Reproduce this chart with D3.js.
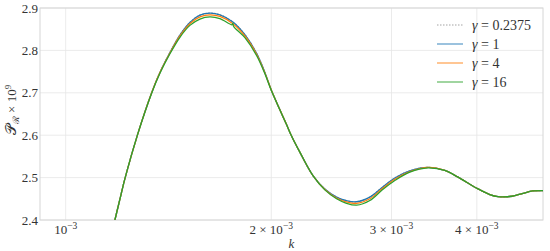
<!DOCTYPE html>
<meta charset="utf-8">
<style>
    body { margin: 0; background: #fff; }
    .grid line { stroke: #e6e6e6; stroke-width: 0.8px; }
    .line { fill: none; stroke-width: 1.3px; }
</style>
<svg width="550" height="251" font-family="'Liberation Serif', 'DejaVu Serif', serif"></svg>
<script src="https://d3js.org/d3.v7.min.js"></script>
<script>

    // k values (units of 1e-3) and P_R x 1e9
    var kVals = [1.1805, 1.2009, 1.2213, 1.2746, 1.3361, 1.3740, 1.4212, 1.4698, 1.5201, 1.5723,
        1.6262, 1.6820, 1.7573, 1.8299, 1.9034, 1.9575, 2.0022, 2.1057, 2.1415, 2.2023,
        2.3034, 2.3961, 2.4926, 2.5721, 2.6664, 2.7886, 2.9035, 3.0335, 3.1908, 3.3938,
        3.5903, 3.7548, 4.0099, 4.1784, 4.2973, 4.5002, 4.6748, 4.8303, 5.0000];

    var gamma1 = [2.400, 2.450, 2.498, 2.602, 2.700, 2.748, 2.795, 2.836, 2.866, 2.883,
        2.888, 2.884, 2.867, 2.837, 2.793, 2.748, 2.705, 2.625, 2.598, 2.560,
        2.504, 2.473, 2.454, 2.446, 2.443, 2.454, 2.476, 2.499, 2.516, 2.524,
        2.517, 2.501, 2.474, 2.460, 2.455, 2.456, 2.463, 2.4685, 2.4695];

    // gamma = 0.2375 sits on top of gamma = 1
    var gamma02375 = gamma1;

    var gamma4 = [2.400, 2.450, 2.498, 2.602, 2.700, 2.748, 2.794, 2.834, 2.863, 2.879,
        2.884, 2.880, 2.863, 2.834, 2.791, 2.747, 2.705, 2.625, 2.598, 2.560,
        2.504, 2.472, 2.452, 2.443, 2.439, 2.450, 2.473, 2.496, 2.514, 2.524,
        2.517, 2.501, 2.474, 2.460, 2.455, 2.456, 2.463, 2.4685, 2.4695];

    // gamma = 16 has a small glitch near k = 1.757e-3
    var kGreen = [1.1805, 1.2009, 1.2213, 1.2746, 1.3361, 1.3740, 1.4212, 1.4698, 1.5201, 1.5723,
        1.6262, 1.6820, 1.7520, 1.7573, 1.7610, 1.8299, 1.9034, 1.9575, 2.0022, 2.1057, 2.1415, 2.2023,
        2.3034, 2.3961, 2.4926, 2.5721, 2.6664, 2.7886, 2.9035, 3.0335, 3.1908, 3.3938,
        3.5903, 3.7548, 4.0099, 4.1784, 4.2973, 4.5002, 4.6748, 4.8303, 5.0000];
    var gamma16 = [2.400, 2.450, 2.498, 2.602, 2.699, 2.746, 2.792, 2.831, 2.859, 2.874,
        2.879, 2.875, 2.8605, 2.8640, 2.8570, 2.830, 2.788, 2.745, 2.704, 2.625, 2.598, 2.560,
        2.504, 2.471, 2.450, 2.440, 2.435, 2.446, 2.470, 2.493, 2.513, 2.523,
        2.517, 2.501, 2.474, 2.460, 2.455, 2.456, 2.463, 2.4685, 2.4695];

    var yTicks = [2.4, 2.5, 2.6, 2.7, 2.8, 2.9];
    var xTicks = [1, 2, 3, 4];   // multiples of 1e-3
    var legendLabels = ["0.2375", "1", "4", "16"];

    var svg = d3.select("svg"),
        margin = {top: 8, right: 7, bottom: 31, left: 40},
        width = +svg.attr("width") - margin.left - margin.right,
        height = +svg.attr("height") - margin.top - margin.bottom;

    var x = d3.scaleLog().domain([0.917e-3, 5e-3]).range([0, width]),
        y = d3.scaleLinear().domain([2.4, 2.9]).range([height, 0]);

    var g = svg.append("g")
        .attr("transform", "translate(" + margin.left + "," + margin.top + ")");

    svg.append("defs").append("clipPath")
        .attr("id", "clip")
        .append("rect")
        .attr("width", width)
        .attr("height", height);

    // grid
    var grid = g.append("g").attr("class", "grid");
    grid.selectAll(".gx").data(xTicks).enter().append("line")
        .attr("x1", function(d) { return x(d * 1e-3); })
        .attr("x2", function(d) { return x(d * 1e-3); })
        .attr("y1", 0).attr("y2", height);
    grid.selectAll(".gy").data(yTicks).enter().append("line")
        .attr("y1", function(d) { return y(d); })
        .attr("y2", function(d) { return y(d); })
        .attr("x1", 0).attr("x2", width);

    g.append("rect")
        .attr("width", width).attr("height", height)
        .attr("fill", "none").attr("stroke", "#d6d6d6").attr("stroke-width", 1);

    // y tick labels
    g.selectAll(".ylab").data(yTicks).enter().append("text")
        .attr("x", -2)
        .attr("y", function(d) { return y(d) + 4.5; })
        .attr("text-anchor", "end")
        .attr("fill", "#333")
        .style("font-size", "13px")
        .text(function(d) { return d.toFixed(1); });

    // x tick labels
    var xl = g.selectAll(".xlab").data(xTicks).enter().append("text")
        .attr("x", function(d) { return x(d * 1e-3); })
        .attr("y", height + 14)
        .attr("text-anchor", "middle")
        .attr("fill", "#333")
        .style("font-size", "13px");
    xl.append("tspan").text(function(d) { return d === 1 ? "10" : d + " \u00d7 10"; });
    xl.append("tspan").attr("dy", -5).style("font-size", "9.5px").text("\u22123");

    // axis labels
    g.append("text")
        .attr("x", width / 2)
        .attr("y", height + 28)
        .attr("text-anchor", "middle")
        .attr("fill", "#333")
        .style("font-size", "13px")
        .style("font-style", "italic")
        .text("k");

    var yl = svg.append("text")
        .attr("transform", "translate(16," + (margin.top + 102) + ") rotate(-90)")
        .attr("text-anchor", "middle")
        .attr("fill", "#333")
        .style("font-size", "13px");
    yl.append("tspan").style("font-size", "15px").text("\ud835\udcab");
    yl.append("tspan").attr("dy", 3).style("font-size", "9px").text("\u211b");
    yl.append("tspan").attr("dy", -3).text(" \u00d7 10");
    yl.append("tspan").attr("dy", -5).style("font-size", "9px").text("9");

    var series = [
        {label: legendLabels[0], k: kVals, v: gamma02375, color: "#999999", dash: "1.5,1.5"},
        {label: legendLabels[1], k: kVals, v: gamma1, color: "#1f77b4", dash: null},
        {label: legendLabels[2], k: kVals, v: gamma4, color: "#ff7f0e", dash: null},
        {label: legendLabels[3], k: kGreen, v: gamma16, color: "#2ca02c", dash: null}
    ];

    var line = d3.line()
        .curve(d3.curveCatmullRom.alpha(0.5))
        .x(function(d) { return x(d[0] * 1e-3); })
        .y(function(d) { return y(d[1]); });

    var plot = g.append("g").attr("clip-path", "url(#clip)");
    series.forEach(function(s) {
        plot.append("path")
            .datum(d3.zip(s.k, s.v))
            .attr("class", "line")
            .attr("stroke", s.color)
            .attr("stroke-dasharray", s.dash)
            .attr("d", line);
    });

    // legend
    var legend = g.append("g").attr("transform", "translate(" + (width - 106) + ",17)");
    series.forEach(function(s, i) {
        var row = legend.append("g").attr("transform", "translate(0," + (i * 19) + ")");
        row.append("line")
            .attr("x1", 0).attr("x2", 26)
            .attr("stroke", s.color)
            .attr("stroke-width", 1.5)
            .attr("stroke-opacity", 0.6)
            .attr("stroke-dasharray", s.dash);
        var t = row.append("text").attr("x", 35).attr("y", 4.5).attr("fill", "#333").style("font-size", "14px");
        t.append("tspan").style("font-style", "italic").text("\u03b3");
        t.append("tspan").text(" = " + s.label);
    });

</script>
